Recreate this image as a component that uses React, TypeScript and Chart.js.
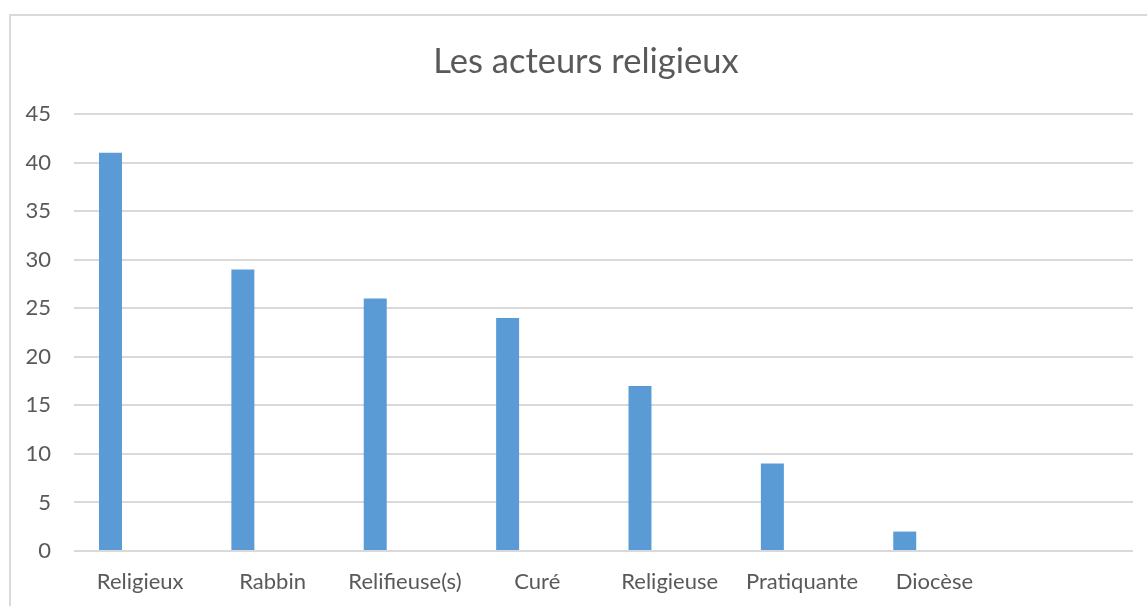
import React, { useEffect, useRef } from "react";
import { Chart, registerables } from "chart.js";

Chart.register(...registerables);

const chartTitle = "Les acteurs religieux";
const categories = ["Religieux", "Rabbin", "Relifieuse(s)", "Curé", "Religieuse", "Pratiquante", "Diocèse", ""];
const serie1: (number | null)[] = [41, 29, 26, 24, 17, 9, 2, null];
const serie2: (number | null)[] = [null, null, null, null, null, null, null, null];
const serie3: (number | null)[] = [null, null, null, null, null, null, null, null];
const yMin = 0;
const yMax = 45;
const yStep = 5;

const FONT = "Lato, 'Open Sans', sans-serif";
const TEXT = "#595959";
const GRID = "#d9d9d9";
const BAR = "#5b9bd5";
const TITLE_SIZE = 34.5;

export default function App() {
  const ref = useRef<HTMLCanvasElement | null>(null);

  useEffect(() => {
    if (!ref.current) return;
    const ds = (label: string, data: (number | null)[]) => ({
      label,
      data,
      backgroundColor: BAR,
      borderWidth: 0,
      categoryPercentage: 0.673,
      barPercentage: 0.774,
      yAxisID: "y",
    });
    const chart = new Chart(ref.current, {
      type: "bar",
      data: {
        labels: categories,
        datasets: [ds("Série 1", serie1), ds("Série 2", serie2), ds("Série 3", serie3)],
      },
      options: {
        animation: false,
        responsive: false,
        devicePixelRatio: 1,
        layout: { padding: 0 },
        plugins: {
          legend: { display: false },
          tooltip: { enabled: false },
          title: {
            display: true,
            text: chartTitle,
            color: TEXT,
            font: { family: FONT, size: TITLE_SIZE, weight: "normal" },
            padding: { top: 25, bottom: 98 - TITLE_SIZE * 1.2 - 25 },
          },
        },
        scales: {
          x: {
            grid: { display: false, drawTicks: false },
            border: { display: false },
            ticks: {
              color: TEXT,
              font: { family: FONT, size: 22 },
              padding: 18,
              maxRotation: 0,
              autoSkip: false,
            },
            afterFit: (s: any) => {
              s.height = 55;
            },
          },
          y: {
            min: yMin,
            max: yMax,
            grid: { color: GRID, lineWidth: 2, drawTicks: false },
            border: { display: false },
            ticks: {
              stepSize: yStep,
              color: TEXT,
              font: { family: FONT, size: 22 },
              padding: 23,
            },
            afterFit: (s: any) => {
              s.width = 63;
            },
          },
          yRight: {
            position: "right",
            display: true,
            min: yMin,
            max: yMax,
            grid: { display: false, drawTicks: false },
            border: { display: false },
            ticks: { display: false },
            afterFit: (s: any) => {
              s.width = 28;
            },
          },
        },
      },
    });
    return () => chart.destroy();
  }, []);

  return (
    <div
      style={{
        position: "fixed",
        left: 0,
        top: 0,
        width: 1147,
        height: 606,
        overflow: "hidden",
        background: "#fff",
      }}
    >
      <div
        style={{
          position: "absolute",
          left: 9,
          top: 14,
          width: 1180,
          height: 620,
          borderLeft: `2px solid ${GRID}`,
          borderTop: `2px solid ${GRID}`,
        }}
      >
        <canvas ref={ref} width={1150} height={590} style={{ display: "block" }} />
      </div>
    </div>
  );
}
